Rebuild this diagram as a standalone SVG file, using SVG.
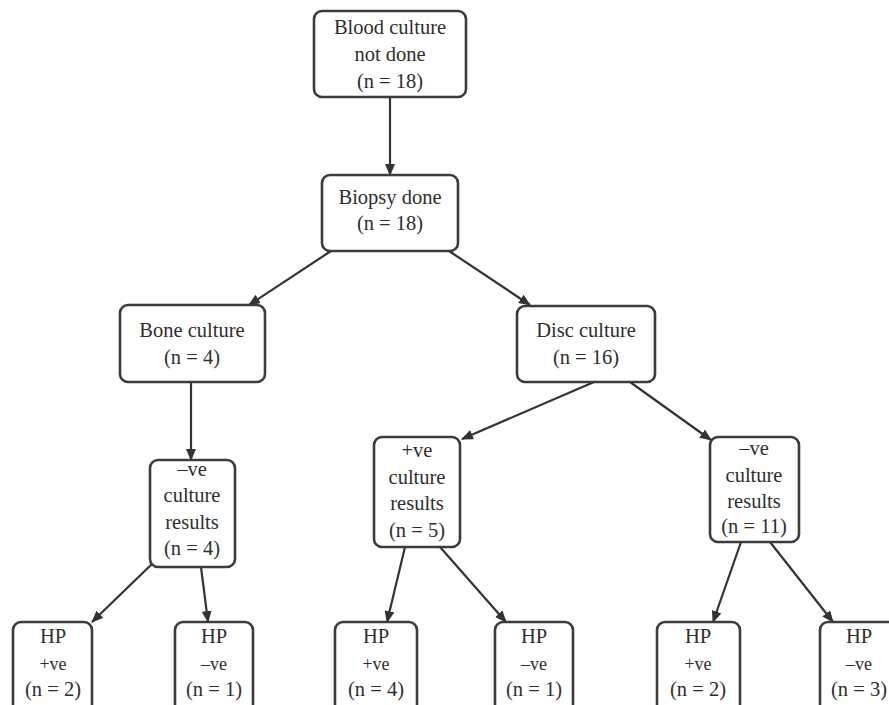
<svg xmlns="http://www.w3.org/2000/svg" width="889" height="705" viewBox="0 0 889 705">
<defs>
<marker id="ah" markerWidth="12" markerHeight="10" refX="11" refY="5" orient="auto" markerUnits="userSpaceOnUse">
<path d="M0,0 L12,5 L0,10 Z" fill="#333"/>
</marker>
<style>
rect.n{fill:#fff;stroke:#3c3c3c;stroke-width:2.6}
text{font-size:20.5px;fill:#2e2e2e;text-anchor:middle}
text.s{font-size:18px}
#connectors line{stroke:#333;stroke-width:2.2;marker-end:url(#ah)}
</style>
</defs>
<rect width="889" height="705" fill="#fff"/>
<g id="connectors">
<line x1="390" y1="97" x2="390" y2="175"/>
<line x1="331" y1="251" x2="249" y2="305"/>
<line x1="449" y1="251" x2="530" y2="305"/>
<line x1="191" y1="382" x2="191" y2="460"/>
<line x1="594" y1="382" x2="462" y2="439"/>
<line x1="630" y1="382" x2="711" y2="440"/>
<line x1="153" y1="563" x2="92" y2="622"/>
<line x1="201" y1="567" x2="208" y2="622"/>
<line x1="405" y1="547" x2="387" y2="622"/>
<line x1="440" y1="547" x2="506" y2="622"/>
<line x1="741" y1="542" x2="713" y2="622"/>
<line x1="770" y1="542" x2="833" y2="622"/>
</g>
<g font-family="'Liberation Serif', 'DejaVu Serif', serif">
<g id="n_blood"><rect class="n" x="314" y="11" width="152" height="86" rx="8"/>
<text x="390" y="34">Blood culture</text><text x="390" y="61">not done</text><text x="390" y="88">(n = 18)</text></g>
<g id="n_biopsy"><rect class="n" x="322" y="175" width="136" height="76" rx="8"/>
<text x="390" y="204">Biopsy done</text><text x="390" y="230">(n = 18)</text></g>
<g id="n_bone"><rect class="n" x="120" y="305" width="145" height="77" rx="8"/>
<text x="192" y="337">Bone culture</text><text x="192" y="364">(n = 4)</text></g>
<g id="n_disc"><rect class="n" x="517" y="306" width="138" height="76" rx="8"/>
<text x="586" y="337">Disc culture</text><text x="586" y="364">(n = 16)</text></g>
<g id="n_neg_left"><rect class="n" x="150" y="460" width="85" height="107" rx="8"/>
<text x="192" y="476">–ve</text><text x="192" y="502">culture</text><text x="192" y="529">results</text><text x="192" y="555">(n = 4)</text></g>
<g id="n_pos_mid"><rect class="n" x="374" y="437" width="86" height="110" rx="8"/>
<text x="417" y="457">+ve</text><text x="417" y="484">culture</text><text x="417" y="510">results</text><text x="417" y="537">(n = 5)</text></g>
<g id="n_neg_right"><rect class="n" x="710" y="437" width="89" height="105" rx="8"/>
<text x="754" y="455">–ve</text><text x="754" y="482">culture</text><text x="754" y="508">results</text><text x="754" y="533">(n = 11)</text></g>
<g id="n_hp1"><rect class="n" x="13" y="622" width="79" height="100" rx="8"/>
<text x="53" y="643">HP</text><text class="s" x="53" y="670">+ve</text><text x="53" y="696">(n = 2)</text></g>
<g id="n_hp2"><rect class="n" x="175" y="622" width="78" height="100" rx="8"/>
<text x="214" y="643">HP</text><text class="s" x="214" y="670">–ve</text><text x="214" y="696">(n = 1)</text></g>
<g id="n_hp3"><rect class="n" x="335" y="622" width="82" height="100" rx="8"/>
<text x="376" y="643">HP</text><text class="s" x="376" y="670">+ve</text><text x="376" y="696">(n = 4)</text></g>
<g id="n_hp4"><rect class="n" x="495" y="622" width="78" height="100" rx="8"/>
<text x="534" y="643">HP</text><text class="s" x="534" y="670">–ve</text><text x="534" y="696">(n = 1)</text></g>
<g id="n_hp5"><rect class="n" x="657" y="622" width="83" height="100" rx="8"/>
<text x="698" y="643">HP</text><text class="s" x="698" y="670">+ve</text><text x="698" y="696">(n = 2)</text></g>
<g id="n_hp6"><rect class="n" x="820" y="622" width="80" height="100" rx="8"/>
<text x="859" y="643">HP</text><text class="s" x="859" y="670">–ve</text><text x="859" y="696">(n = 3)</text></g>
</g>
</svg>
